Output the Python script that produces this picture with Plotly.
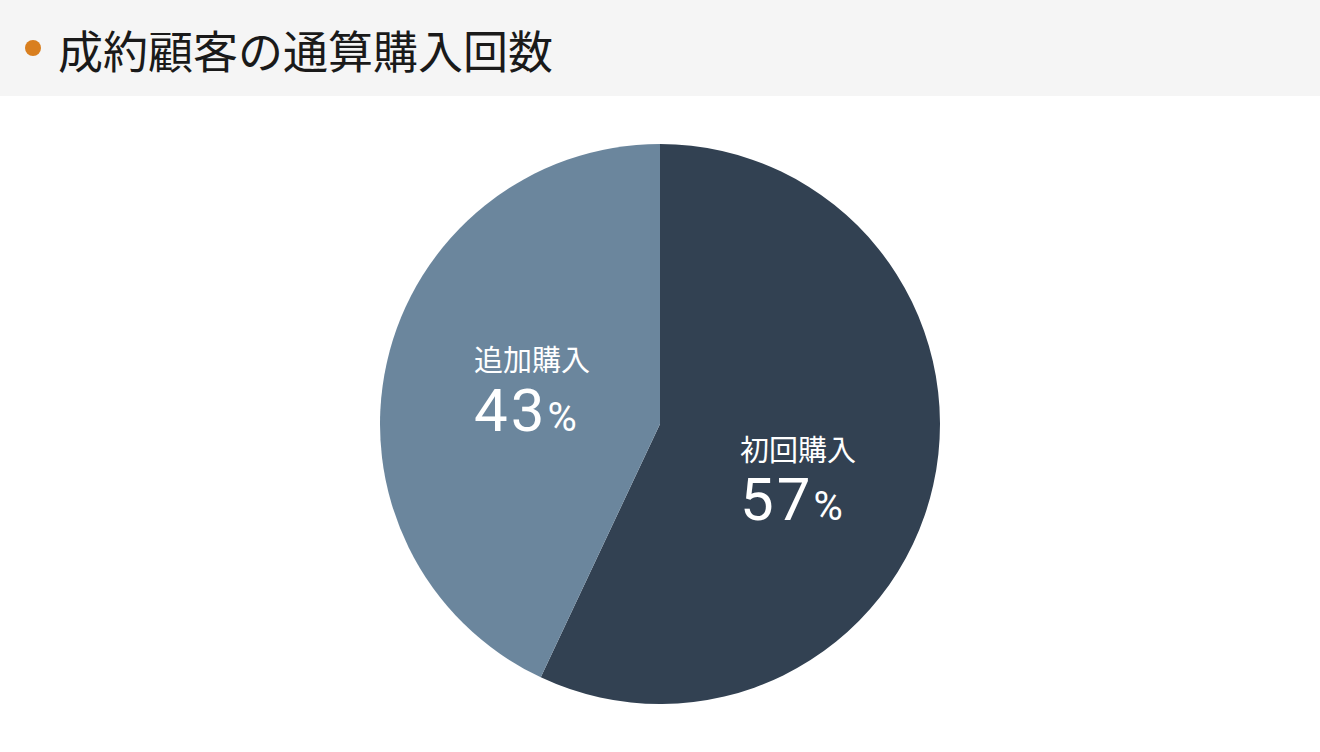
import math
import plotly.graph_objects as go

# Data
labels = ["初回購入", "追加購入"]
shares = [57, 43]
colors = ["#324152", "#6b869d"]
title = "成約顧客の通算購入回数"

W, H = 1320, 752
FONT = "Noto Sans CJK JP"
NUM_FONT = "Roboto, Noto Sans CJK JP"

# pie placement in pixels (center + radius)
cx, cy, R = 660, 424, 280

fig = go.Figure(
    go.Pie(
        labels=labels,
        values=shares,
        sort=False,
        direction="clockwise",
        rotation=0,
        marker=dict(colors=colors, line=dict(width=0)),
        textinfo="none",
        hoverinfo="label+percent",
        showlegend=False,
        domain=dict(x=[(cx - R) / W, (cx + R) / W], y=[1 - (cy + R) / H, 1 - (cy - R) / H]),
    )
)

# label each slice at half radius, a little past its mid angle
annotations = []
total = sum(shares)
start = 0.0
for name, val in zip(labels, shares):
    mid = ((start + val / 2) / total * 360 + 6) * math.pi / 180
    start += val
    px = cx + 0.5 * R * math.sin(mid) - 55  # left edge of the label block
    py = cy - 0.5 * R * math.cos(mid)
    annotations.append(dict(
        x=px / W, y=1 - (py - 21) / H, xref="paper", yref="paper",
        text=name, showarrow=False, xanchor="left", yanchor="middle",
        font=dict(family=FONT, size=29, color="white"),
    ))
    annotations.append(dict(
        x=px / W, y=1 - (py + 31) / H, xref="paper", yref="paper",
        text=f"<span style='letter-spacing:3px'>{val}</span><span style='font-size:40px'>%</span>",
        showarrow=False, xanchor="left", yanchor="middle",
        font=dict(family=NUM_FONT, size=60, color="white"),
    ))

# header title
annotations.append(dict(
    x=56 / W, y=1 - 50 / H, xref="paper", yref="paper",
    text=title, showarrow=False, xanchor="left", yanchor="middle",
    font=dict(family=FONT, size=45, color="#1a1a1a"),
))

fig.update_layout(
    width=W,
    height=H,
    margin=dict(l=0, r=0, t=0, b=0),
    paper_bgcolor="white",
    plot_bgcolor="white",
    annotations=annotations,
    shapes=[
        # gray header band
        dict(type="rect", xref="paper", yref="paper", x0=0, x1=1, y0=1 - 96 / H, y1=1,
             fillcolor="#f5f5f5", line=dict(width=0), layer="below"),
        # orange bullet
        dict(type="circle", xref="paper", yref="paper",
             x0=25 / W, x1=41 / W, y0=1 - 56 / H, y1=1 - 40 / H,
             fillcolor="#d97f1f", line=dict(width=0)),
    ],
)

# drop the default page margin so the figure sits at the window corner
fig.write_html("out.html", config={"displayModeBar": False},
               post_script="document.body.style.margin='0';")
